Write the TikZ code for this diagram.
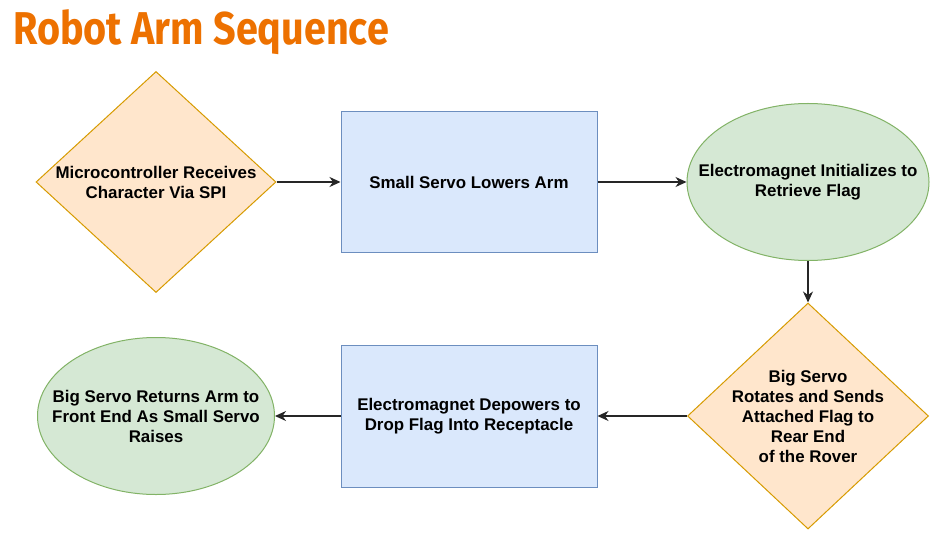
\documentclass[tikz,border=0pt]{standalone}
\usepackage{fontspec}
\setmainfont{Liberation Sans}
\newfontfamily\titlefont{Fira Sans}
\usetikzlibrary{shapes.geometric,arrows.meta}
\definecolor{titleorange}{RGB}{237,113,0}
\definecolor{diafill}{HTML}{FFE6CC}
\definecolor{diadraw}{HTML}{D79B00}
\definecolor{recfill}{HTML}{DAE8FC}
\definecolor{recdraw}{HTML}{6C8EBF}
\definecolor{ellfill}{HTML}{D5E8D4}
\definecolor{elldraw}{HTML}{82B366}
\begin{document}
\begin{tikzpicture}[x=1pt,y=-1pt,
  dia/.style={shape=diamond, fill=diafill, draw=diadraw, line width=1pt, inner sep=0pt},
  rec/.style={shape=rectangle, fill=recfill, draw=recdraw, line width=1pt, inner sep=0pt},
  ell/.style={shape=ellipse, fill=ellfill, draw=elldraw, line width=1pt, inner sep=0pt},
  txt/.style={font=\fontsize{16.9}{20}\selectfont\bfseries, align=center, inner sep=0pt},
  conn/.style={draw=black!85, line width=1.2pt, -{Stealth[length=11pt,width=10pt,inset=3.5pt]}}
]
\useasboundingbox (0,0) rectangle (941,537);
\fill[white] (0,0) rectangle (941,537);

\node[anchor=base west, inner sep=0pt, text=titleorange] (title) at (13,45)
  {\scalebox{0.86}[1]{\titlefont\fontsize{46}{50}\selectfont\bfseries Robot Arm Sequence}};

\node[dia, minimum width=240pt, minimum height=221pt] (d1) at (156,182) {};
\node[txt] (d1t) at (d1.center) {Microcontroller Receives\\Character Via SPI};

\node[rec, minimum width=256pt, minimum height=141pt] (r1) at (469,182) {};
\node[txt] (r1t) at (r1.center) {Small Servo Lowers Arm};

\node[ell, minimum width=242pt, minimum height=157pt] (e1) at (808,182) {};
\node[txt] (e1t) at (e1.center) {Electromagnet Initializes to\\Retrieve Flag};

\node[dia, minimum width=241pt, minimum height=226pt] (d2) at (808,416) {};
\node[txt] (d2t) at (d2.center) {Big Servo\\Rotates and Sends\\Attached Flag to\\Rear End\\of the Rover};

\node[rec, minimum width=256pt, minimum height=142pt] (r2) at (469,416) {};
\node[txt] (r2t) at (r2.center) {Electromagnet Depowers to\\Drop Flag Into Receptacle};

\node[ell, minimum width=237pt, minimum height=157pt] (e2) at (156,416) {};
\node[txt] (e2t) at (e2.center) {Big Servo Returns Arm to\\Front End As Small Servo\\Raises};

\draw[conn] (d1.east) -- (r1.west);
\draw[conn] (r1.east) -- (e1.west);
\draw[conn] (e1.south) -- (d2.north);
\draw[conn] (d2.west) -- (r2.east);
\draw[conn] (r2.west) -- (e2.east);
\end{tikzpicture}
\end{document}
